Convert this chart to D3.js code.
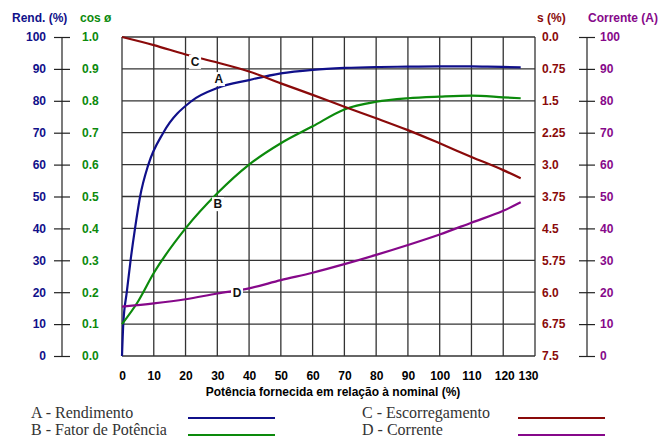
<!DOCTYPE html>
<html>
<head>
<meta charset="utf-8">
<script src="https://cdn.jsdelivr.net/npm/d3@7"></script>
<style>
  body { margin: 0; background: #fff; }
  text { font-family: "Liberation Sans", Arial, sans-serif; font-weight: bold; font-size: 12px; }
  .legend text { font-family: "Liberation Serif", "Times New Roman", serif; font-weight: normal; font-size: 16px; fill: #333; }
</style>
</head>
<body>
<script>
const width = 659;
const height = 440;

// potência fornecida (% da nominal)
const loadA = [0, 0.4, 1.5, 2.7, 4.1, 5.7, 8.3, 13, 22, 30, 40, 50, 60, 70, 80, 90, 100, 110, 115, 125.5];
const rendimento = [0, 10, 20, 30, 40, 50, 60, 70, 80, 84, 86.5, 88.6, 89.7, 90.3, 90.6, 90.7, 90.8, 90.8, 90.7, 90.5];

const loadB = [0, 5, 10, 20, 30, 40, 50, 60, 70, 80, 90, 100, 110, 120, 125.5];
const fatorPotencia = [0.10, 0.17, 0.26, 0.40, 0.51, 0.60, 0.667, 0.72, 0.773, 0.797, 0.808, 0.813, 0.816, 0.811, 0.808];

const loadC = [0, 10, 20, 30, 40, 50, 60, 70, 80, 90, 100, 110, 120, 125.5];
const escorregamento = [0, 0.19, 0.41, 0.60, 0.81, 1.09, 1.36, 1.64, 1.91, 2.19, 2.50, 2.82, 3.13, 3.32];

const loadD = [0, 10, 20, 30, 40, 50, 60, 70, 80, 90, 100, 110, 120, 125.5];
const corrente = [15.5, 16.5, 17.8, 19.6, 21.2, 23.8, 26.1, 28.8, 31.7, 34.8, 38.1, 41.8, 45.5, 48.2];

const xTicks = [0, 10, 20, 30, 40, 50, 60, 70, 80, 90, 100, 110, 120, 130];
const rendTicks = ["0", "10", "20", "30", "40", "50", "60", "70", "80", "90", "100"];
const cosTicks = ["0.0", "0.1", "0.2", "0.3", "0.4", "0.5", "0.6", "0.7", "0.8", "0.9", "1.0"];
const slipTicks = ["7.5", "6.75", "6.0", "5.75", "4.5", "3.75", "3.0", "2.25", "1.5", "0.75", "0.0"];
const currTicks = ["0", "10", "20", "30", "40", "50", "60", "70", "80", "90", "100"];

// curve letter labels [letter, load, value on left scale]
const curveLabels = [["C", 23, 92.2], ["A", 30.5, 86.8], ["B", 30.2, 47.6], ["D", 36.2, 19.7]];

const blue = "#10108a", green = "#0c8a0c", red = "#8a0a0a", purple = "#86088a";

const x = d3.scaleLinear([0, 130], [122, 535]);
const y = d3.scaleLinear([0, 100], [356, 37]);
const yCos = d3.scaleLinear([0, 1], [356, 37]);
const ySlip = d3.scaleLinear([0, 7.5], [37, 356]);

const svg = d3.select("body").append("svg")
  .attr("width", width)
  .attr("height", height);

// grid
const grid = svg.append("g").attr("stroke", "#333").attr("stroke-width", 1.3);
grid.selectAll("line.v")
  .data(xTicks)
  .enter().append("line")
  .attr("x1", d => x(d)).attr("x2", d => x(d))
  .attr("y1", y(0)).attr("y2", y(100));
grid.selectAll("line.h")
  .data(d3.range(11))
  .enter().append("line")
  .attr("x1", x(0)).attr("x2", x(130))
  .attr("y1", (d, i) => y(i * 10)).attr("y2", (d, i) => y(i * 10));

// left axes
const idx = d3.range(11);
const yIdx = d3.scaleLinear([0, 10], [356, 37]);

const rendAxis = svg.append("g")
  .attr("transform", "translate(70,0)")
  .call(d3.axisLeft(yIdx).tickValues(idx).tickSize(16).tickPadding(8).tickFormat(i => rendTicks[i]));
rendAxis.select(".domain").remove();
rendAxis.selectAll("line").attr("stroke", "#222").attr("stroke-width", 1.2);
rendAxis.selectAll("text").attr("fill", blue).style("font-size", "12px").style("font-family", null);
svg.append("line").attr("x1", 62).attr("x2", 62).attr("y1", 37).attr("y2", 356).attr("stroke", "#222").attr("stroke-width", 1.2);

const cosAxis = svg.append("g")
  .attr("transform", "translate(82,0)")
  .call(d3.axisRight(yIdx).tickValues(idx).tickSize(0).tickPadding(0).tickFormat(i => cosTicks[i]));
cosAxis.select(".domain").remove();
cosAxis.selectAll("text").attr("fill", green).style("font-size", "12px").style("font-family", null);

// right axes
const slipAxis = svg.append("g")
  .attr("transform", "translate(535,0)")
  .call(d3.axisRight(yIdx).tickValues(idx).tickSize(0).tickPadding(7).tickFormat(i => slipTicks[i]));
slipAxis.select(".domain").remove();
slipAxis.selectAll("text").attr("fill", red).style("font-size", "12px").style("font-family", null);

const currAxis = svg.append("g")
  .attr("transform", "translate(579,0)")
  .call(d3.axisRight(yIdx).tickValues(idx).tickSize(16).tickPadding(5).tickFormat(i => currTicks[i]));
currAxis.select(".domain").remove();
currAxis.selectAll("line").attr("stroke", "#222").attr("stroke-width", 1.2);
currAxis.selectAll("text").attr("fill", purple).style("font-size", "12px").style("font-family", null);
svg.append("line").attr("x1", 587).attr("x2", 587).attr("y1", 37).attr("y2", 356).attr("stroke", "#222").attr("stroke-width", 1.2);

// bottom axis
const xAxis = svg.append("g")
  .attr("transform", "translate(0,356)")
  .call(d3.axisBottom(x).tickValues(xTicks).tickSize(0).tickPadding(15));
xAxis.select(".domain").remove();
xAxis.selectAll("text").attr("fill", "#000").style("font-size", "12px").style("font-family", null);
xAxis.selectAll("text").filter(d => d === 130).attr("text-anchor", "end").attr("dx", 3);
xAxis.selectAll("text").filter(d => d === 120).attr("dx", 1);

svg.append("text")
  .attr("x", 333).attr("y", 396)
  .attr("text-anchor", "middle")
  .text("Potência fornecida em relação à nominal (%)");

// axis titles
svg.append("text").attr("x", 12).attr("y", 22).attr("fill", blue).text("Rend. (%)");
svg.append("text").attr("x", 80).attr("y", 22).attr("fill", green).text("cos ø");
svg.append("text").attr("x", 537).attr("y", 22).attr("fill", red).text("s (%)");
svg.append("text").attr("x", 588).attr("y", 22).attr("fill", purple).text("Corrente (A)");

// curves
const curves = [
  { load: loadA, vals: rendimento, scale: y, color: blue },
  { load: loadB, vals: fatorPotencia, scale: yCos, color: green },
  { load: loadC, vals: escorregamento, scale: ySlip, color: red },
  { load: loadD, vals: corrente, scale: y, color: purple }
];

curves.forEach(c => {
  const line = d3.line()
    .x((d, i) => x(c.load[i]))
    .y(d => c.scale(d))
    .curve(d3.curveMonotoneX);
  svg.append("path")
    .datum(c.vals)
    .attr("fill", "none")
    .attr("stroke", c.color)
    .attr("stroke-width", 2.2)
    .attr("d", line);
});

// letter labels on curves
const lbl = svg.selectAll("g.lbl")
  .data(curveLabels)
  .enter().append("g")
  .attr("transform", d => `translate(${x(d[1])},${y(d[2])})`);
lbl.append("rect")
  .attr("x", -6).attr("y", -7).attr("width", 12).attr("height", 14)
  .attr("fill", "#fff");
lbl.append("text")
  .attr("text-anchor", "middle")
  .attr("dy", "0.36em")
  .attr("fill", "#111")
  .style("font-size", "12px")
  .text(d => d[0]);

// legend
const legendItems = [
  ["A  -  Rendimento", blue, 31, 188, 418],
  ["B  -  Fator de Potência", green, 31, 188, 435],
  ["C  -  Escorregamento", red, 362, 518, 418],
  ["D  -  Corrente", purple, 362, 518, 435]
];
const legend = svg.append("g").attr("class", "legend");
legendItems.forEach(d => {
  legend.append("text").attr("x", d[2]).attr("y", d[4]).text(d[0]);
  legend.append("line")
    .attr("x1", d[3]).attr("x2", d[3] + 87)
    .attr("y1", d[4]).attr("y2", d[4])
    .attr("stroke", d[1]).attr("stroke-width", 2);
});
</script>
</body>
</html>
